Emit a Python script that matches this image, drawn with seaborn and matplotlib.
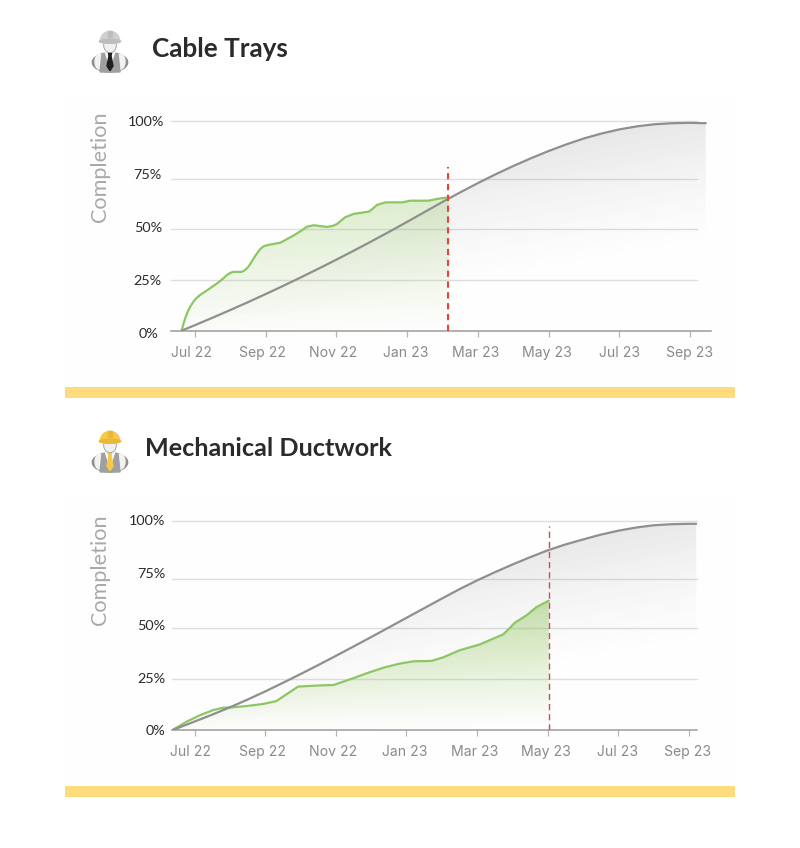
import numpy as np
import pandas as pd
import matplotlib
matplotlib.use("Agg")
import matplotlib.pyplot as plt
from matplotlib.patches import Ellipse, Polygon, Rectangle, Wedge
from matplotlib.transforms import ScaledTranslation
import seaborn as sns

# ---------- data (x = months after Jul 22, y = % complete) ----------
tick_labels = ["Jul 22", "Sep 22", "Nov 22", "Jan 23", "Mar 23", "May 23", "Jul 23", "Sep 23"]
tick_months = [0, 2, 4, 6, 8, 10, 12, 14]
y_ticks = [0, 25, 50, 75, 100]

cable_actual_x = [-0.37, -0.32, -0.27, -0.2, -0.13, -0.05, 0.01, 0.15, 0.39, 0.67, 0.82, 0.91, 1.0, 1.09, 1.33, 1.42, 1.52, 1.71, 1.85, 1.94, 2.04, 2.42,
                  2.79, 3.0, 3.17, 3.36, 3.74, 3.9, 4.02, 4.25, 4.49, 4.92, 5.03, 5.15, 5.39, 5.86, 6.09, 6.61, 6.94, 7.18]
cable_actual_y = [0.3, 3.5, 6.2, 9.3, 11.7, 13.8, 15.2, 17.3, 20, 23.3, 25.4, 26.8, 27.8, 28.3, 28.3, 29.2, 30.8, 35.9, 39.2, 40.4, 41, 42.2,
                  45.6, 47.8, 49.8, 50.5, 49.7, 50.2, 51.1, 54.3, 55.9, 57, 58.4, 60.2, 61.4, 61.4, 62.2, 62.2, 63.3, 63.8]
cable_plan_x = [-0.37, 0, 0.5, 1, 1.5, 2, 2.5, 3, 3.5, 4, 4.5, 5, 5.5, 6, 6.5, 7, 7.5, 8, 8.5, 9, 9.5, 10,
                10.5, 11, 11.5, 12, 12.5, 13, 13.5, 14, 14.44]
cable_plan_y = [0.3, 2.9, 6.45, 10.1, 13.85, 17.7, 21.65, 25.7, 29.85, 34.1, 38.45, 42.9, 47.45, 52.1, 56.85, 61.6,
                66.15, 70.55, 74.75, 78.7, 82.4, 85.85, 89.0, 91.85, 94.2, 96.15, 97.6, 98.6, 99.1, 99.25, 99.1]
cable_grid = [24.3, 48.6, 72.4, 100]
cable_today = 7.16
cable_today_top = 78

duct_actual_x = [-0.64, -0.23, 0.15, 0.53, 0.81, 1.09, 1.47, 1.94, 2.32, 2.6, 2.93, 3.45, 3.94, 4.49, 4.96, 5.38,
                 5.81, 6.19, 6.71, 7.04, 7.51, 8.08, 8.74, 8.92, 9.07, 9.4, 9.68, 10.03]
duct_actual_y = [0, 4.1, 7.2, 9.7, 10.8, 11, 11.6, 12.6, 14, 17.2, 20.9, 21.4, 21.7, 24.9, 27.8, 30.1,
                 31.9, 33, 33.2, 34.9, 38.3, 41.1, 45.9, 48.8, 51.5, 55, 58.9, 62]
duct_plan_x = [-0.64, 0, 0.5, 1, 1.5, 2, 2.5, 3, 3.5, 4, 4.5, 5, 5.5, 6, 6.5, 7, 7.5, 8, 8.5, 9, 9.5, 10,
               10.5, 11, 11.5, 12, 12.5, 13, 13.5, 14, 14.21]
duct_plan_y = [0, 4.2, 7.5, 11.0, 14.7, 18.6, 22.7, 26.9, 31.2, 35.6, 40.1, 44.6, 49.2, 53.8, 58.4, 63.0, 67.5, 71.7,
               75.6, 79.3, 82.8, 86.1, 88.9, 91.3, 93.6, 95.5, 97, 98.1, 98.6, 98.8, 98.8]
duct_grid = [24.4, 49.1, 72.4, 100]
duct_today = 10.03
duct_today_top = 97.8

# ---------- helpers ----------
W, H = 800, 848
sns.set_theme(style="white")
plt.rcParams["font.family"] = ["Lato", "DejaVu Sans"]
fig = plt.figure(figsize=(W / 100, H / 100), dpi=100, facecolor="white")


def px_axes(x0, y0, x1, y1, **kw):
    return fig.add_axes([x0 / W, 1 - y1 / H, (x1 - x0) / W, (y1 - y0) / H], **kw)


def gradient_fill(ax, xs, ys, rgb, a0, v0, slope, span, xlim, zorder, ease=1.0):
    n = 300
    u, v = np.meshgrid(np.linspace(0, 1, n), np.linspace(0, 1, n))
    t = np.clip((v - (v0 + slope * u)) / span, 0, 1) ** ease
    img = np.zeros((n, n, 4))
    img[..., :3] = np.array(rgb) / 255
    img[..., 3] = a0 * t
    shape = ax.fill_between(xs, 0, ys, facecolor="none", edgecolor="none")
    im = ax.imshow(img, origin="lower", extent=(xlim[0], xlim[1], 0, 100), aspect="auto",
                   zorder=zorder, interpolation="bilinear")
    im.set_clip_path(shape.get_paths()[0], transform=ax.transData)


def offset_label(lbl, dx=0, dy=0):
    lbl.set_transform(lbl.get_transform() + ScaledTranslation(dx / 100, -dy / 100, fig.dpi_scale_trans))


def chart(box, xlim, grid_vals, grid_end, ax_x, ay, px, py, today, today_top, today_lw, today_col, today_dash,
          green_style, ydx, ydy, ylabel_xy):
    ax = px_axes(*box)
    ax.patch.set_alpha(0)
    ax.set_xlim(*xlim)
    ax.set_ylim(0, 100)
    for g in grid_vals:
        ax.plot([xlim[0], grid_end], [g, g], color="#dedede", lw=1.0, zorder=1, clip_on=False)
    gradient_fill(ax, px, py, (80, 80, 80), 0.13, -0.07, 0.47, 0.64, xlim, 2, ease=1.4)
    gradient_fill(ax, ax_x, ay, (130, 190, 70), *green_style, xlim, 3)
    plan = pd.DataFrame({"month": px, "pct": py})
    actual = pd.DataFrame({"month": ax_x, "pct": ay})
    sns.lineplot(data=plan, x="month", y="pct", ax=ax, color="#8f8f8d", lw=1.6, sort=False,
                 errorbar=None, zorder=5, solid_joinstyle="round")
    sns.lineplot(data=actual, x="month", y="pct", ax=ax, color="#8cc665", lw=1.6, sort=False,
                 errorbar=None, zorder=4, solid_joinstyle="round")
    ax.plot([today, today], [0, today_top], color=today_col, lw=today_lw, dashes=today_dash, zorder=6)
    ax.set_xlim(*xlim)
    ax.set_ylim(0, 100)
    ax.set_xlabel("")
    ax.set_ylabel("")
    for s in ("top", "left", "right"):
        ax.spines[s].set_visible(False)
    ax.spines["bottom"].set_color("#9c9c9c")
    ax.spines["bottom"].set_linewidth(1.1)
    ax.set_xticks(tick_months, tick_labels)
    ax.set_yticks(y_ticks, [f"{v}%" for v in y_ticks])
    ax.tick_params(axis="x", bottom=True, length=4.2, width=0.9, color="#b5b5b5", labelcolor="#8a8a88",
                   labelsize=10.1, pad=6.5)
    ax.tick_params(axis="y", left=False, length=0, labelcolor="#2a2a2a", labelsize=10.4, pad=4.6)
    x_dx = [-3.7, -3, -2.7, -1.7, -2, -1.3, -0.3, -1]
    for lbl, d in zip(ax.get_xticklabels(), x_dx):
        offset_label(lbl, d, 0)
        lbl.set_fontfamily(["Inter", "DejaVu Sans"])
    for lbl, dx, dy in zip(ax.get_yticklabels(), ydx, ydy):
        offset_label(lbl, dx, dy)
    fig.text(ylabel_xy[0] / W, 1 - ylabel_xy[1] / H, "Completion", rotation=90, ha="center", va="center",
             color="#a9a9a9", fontsize=15.6)
    return ax


def worker(x0, y0, helmet, tie, shade):
    # decorative figure, drawn on a 180x180 grid (image is 60x60 px)
    a = px_axes(x0, y0, x0 + 60, y0 + 60)
    a.set_xlim(0, 180)
    a.set_ylim(180, 0)
    a.axis("off")
    a.add_patch(Ellipse((90, 127), 106, 58, color="#8e8e8e"))
    a.add_patch(Ellipse((60, 125), 30, 46, color="#f2f2f2"))
    a.add_patch(Ellipse((120, 125), 30, 46, color="#f2f2f2"))
    a.add_patch(Polygon([(66, 101), (114, 101), (120, 156), (60, 156)], color="#9f9f9f"))
    a.add_patch(Polygon([(76, 97), (104, 97), (96, 122), (84, 122)], color="#f6f6f6"))
    a.add_patch(Polygon([(85, 97), (95, 97), (93, 108), (99, 138), (90, 152), (81, 138), (87, 108)], color=tie))
    a.add_patch(Ellipse((90, 76), 38, 44, facecolor="#f0f0f0", edgecolor="#9a9a9a", lw=0.6))
    a.add_patch(Wedge((90, 63), 29, 180, 360, color=helmet, zorder=3))
    a.add_patch(Ellipse((90, 64), 64, 12, color=shade, zorder=3))
    a.add_patch(Rectangle((84, 34), 12, 18, color=shade, zorder=4))


# ---------- page furniture ----------
bg = fig.add_axes([0, 0, 1, 1], zorder=-5)
bg.set_xlim(0, W)
bg.set_ylim(H, 0)
bg.axis("off")
bg.add_patch(Rectangle((65, 96), 670, 291, color="#fefefe", lw=0))
bg.add_patch(Rectangle((65, 496), 670, 290, color="#fefefe", lw=0))
bg.add_patch(Rectangle((65, 387), 670, 11, color="#fedc7e", lw=0))
bg.add_patch(Rectangle((65, 786), 670, 11, color="#fedc7e", lw=0))

chart((170.7, 121.3, 710.7, 331.3), (-0.68, 14.58), cable_grid, 14.18,
      cable_actual_x, cable_actual_y, cable_plan_x, cable_plan_y,
      cable_today, cable_today_top, 1.5, "#ee4136", (3.0, 2.2),
      (0.30, -0.05, 0.1, 0.72), [-5.5, -2.5, -2, -2.5, 0], [2, 1.5, 1, 0.5, 0], (100, 167))
chart((172, 521.3, 697, 730.3), (-0.64, 14.23), duct_grid, 14.23,
      duct_actual_x, duct_actual_y, duct_plan_x, duct_plan_y,
      duct_today, duct_today_top, 1.0, "#c9504a", (4.5, 2.8),
      (0.50, -0.02, 0.05, 0.70), [0, 0, 0, 0, 0], [0, -0.5, -1, -1, -1], (100, 570))

fig.text(152 / W, 1 - 49 / H, "Cable Trays", fontsize=18.8, fontweight="bold", color="#2b2b2b",
         va="center", ha="left", fontfamily=["Lato", "DejaVu Sans"])
fig.text(145 / W, 1 - 449 / H, "Mechanical Ductwork", fontsize=18.2, fontweight="bold", color="#2b2b2b",
         va="center", ha="left", fontfamily=["Lato", "DejaVu Sans"])

worker(80, 20, "#cfcfcf", "#1f1f1f", "#bdbdbd")
worker(80, 420, "#f8c848", "#f8c848", "#e8b838")

fig.savefig("out.png", dpi=100, facecolor="white")
